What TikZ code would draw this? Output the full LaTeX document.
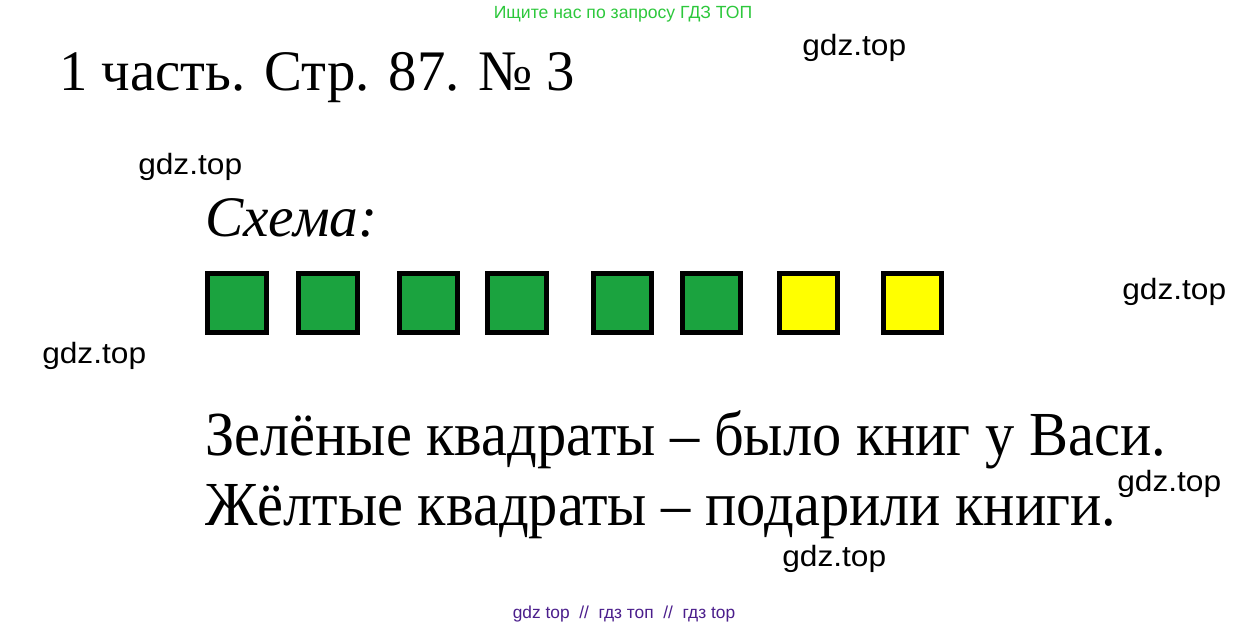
\documentclass[tikz,border=0pt]{standalone}
\usepackage{fontspec}
\setmainfont{Liberation Serif}
\newfontfamily\wmfont{Liberation Sans}
\definecolor{sqgreen}{RGB}{27,163,63}
\definecolor{sqyellow}{RGB}{255,255,0}
\definecolor{topgreen}{RGB}{45,200,60}
\definecolor{botpurple}{RGB}{75,30,140}
\tikzset{
  sq/.style={draw=black,line width=3.75pt,minimum size=44pt,inner sep=0pt},
  greensq/.style={sq,fill=sqgreen},
  yellowsq/.style={sq,fill=sqyellow},
  wm/.style={font=\wmfont\fontsize{22pt}{24pt}\selectfont,inner sep=0pt,anchor=base west},
  bigtext/.style={font=\fontsize{47pt}{50pt}\selectfont,inner sep=0pt,anchor=base west},
}
\newcommand{\wmtext}{\scalebox{1.08}[1]{gdz.top}}
\begin{document}
\begin{tikzpicture}[x=0.75pt,y=-0.75pt]
\useasboundingbox (0,0) rectangle (1249,628);
\fill[white] (0,0) rectangle (1249,628);
% header / footer
\node[font=\wmfont\fontsize{13.2pt}{14pt}\selectfont,text=topgreen,inner sep=0pt,anchor=base] (hdr) at (623,18) {Ищите нас по запросу ГДЗ ТОП};
\node[font=\wmfont\fontsize{13pt}{14pt}\selectfont,text=botpurple,inner sep=0pt,anchor=base] (ftr) at (624,618) {gdz top \ // \ гдз топ \ // \ гдз top};
% title
\node[font=\fontsize{43pt}{46pt}\selectfont,inner sep=0pt,anchor=base west] (title) at (59,90) {\scalebox{0.99}[1]{1 часть. Стр. 87. № 3}};
\node[font=\itshape\fontsize{43pt}{46pt}\selectfont,inner sep=0pt,anchor=base west] (schema) at (205,236) {Схема:};
% squares
\node[greensq] (s1) at (237,303) {};
\node[greensq] (s2) at (328,303) {};
\node[greensq] (s3) at (428.5,303) {};
\node[greensq] (s4) at (517,303) {};
\node[greensq] (s5) at (622.5,303) {};
\node[greensq] (s6) at (711.5,303) {};
\node[yellowsq] (s7) at (808.5,303) {};
\node[yellowsq] (s8) at (912.5,303) {};
% text lines
\node[bigtext] (line1) at (205,455) {\scalebox{0.932}[1]{Зелёные квадраты – было книг у Васи.}};
\node[bigtext] (line2) at (205,525) {\scalebox{0.932}[1]{Жёлтые квадраты – подарили книги.}};
% watermarks
\node[wm] (w1) at (802,55) {\wmtext};
\node[wm] (w2) at (138,174) {\wmtext};
\node[wm] (w3) at (1122,299) {\wmtext};
\node[wm] (w4) at (42,363) {\wmtext};
\node[wm] (w5) at (1117,491) {\wmtext};
\node[wm] (w6) at (782,566) {\wmtext};
\end{tikzpicture}
\end{document}
